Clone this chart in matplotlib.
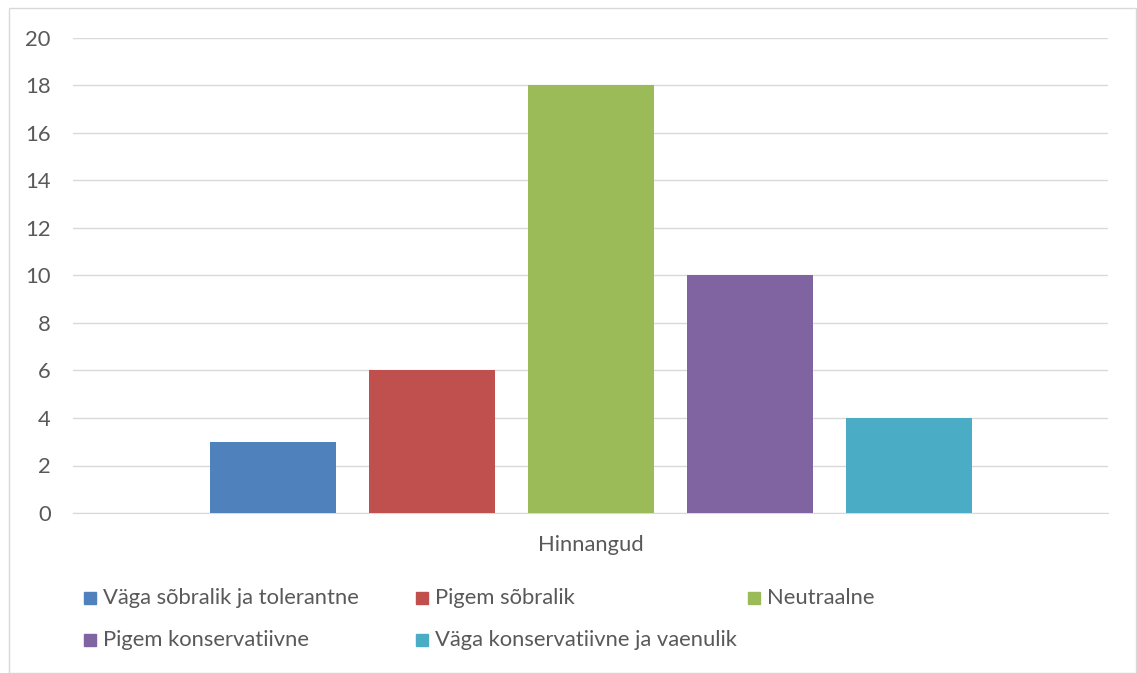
import matplotlib
matplotlib.use("Agg")
import matplotlib.pyplot as plt
from matplotlib.patches import Rectangle

series = ["Väga sõbralik ja tolerantne", "Pigem sõbralik", "Neutraalne",
          "Pigem konservatiivne", "Väga konservatiivne ja vaenulik"]
values = [3, 6, 18, 10, 4]
colors = ["#4f81bd", "#c0504d", "#9bbb59", "#8064a2", "#4bacc6"]
category = "Hinnangud"
yticks = [0, 2, 4, 6, 8, 10, 12, 14, 16, 18, 20]

plt.rcParams['font.family'] = ['Lato', 'DejaVu Sans']
W, H = 1137, 673
fs = 15.8
fig = plt.figure(figsize=(W / 100, H / 100), dpi=100)

# chart border
fig.patches.append(Rectangle((9 / W, 0), (1136 - 9) / W, 1 - 8 / H,
                             transform=fig.transFigure, fill=False,
                             edgecolor="#d9d9d9", linewidth=1))

ax = fig.add_axes([73 / W, 1 - 513 / H, (1108 - 73) / W, (513 - 38) / H])
pos = list(range(len(values)))
ax.bar(pos, values, width=126 / 159, color=colors, zorder=3)
ax.set_xlim(2 - 517.5 / 159, 2 + 517.5 / 159)
ax.set_ylim(0, 20)
ax.set_yticks(yticks)
ax.yaxis.grid(True, color="#d9d9d9", linewidth=1, zorder=0)
ax.tick_params(axis="y", length=0, pad=16, labelsize=fs, labelcolor="#595959")
ax.set_xticks([])
for s in ["top", "right", "left"]:
    ax.spines[s].set_visible(False)
ax.spines["bottom"].set_color("#d9d9d9")
ax.set_xlabel(category, fontsize=fs, color="#595959", labelpad=16)

# legend, two rows of three columns
cols = [84, 416, 748]
rows = [598, 640]
for i, (name, c) in enumerate(zip(series, colors)):
    x = cols[i % 3]
    y = rows[i // 3]
    fig.patches.append(Rectangle((x / W, 1 - (y + 6) / H), 12 / W, 12 / H,
                                 transform=fig.transFigure, color=c))
    fig.text((x + 19) / W, 1 - y / H, name, fontsize=fs, color="#595959",
             va="center", ha="left")

fig.savefig("out.png", dpi=100)
